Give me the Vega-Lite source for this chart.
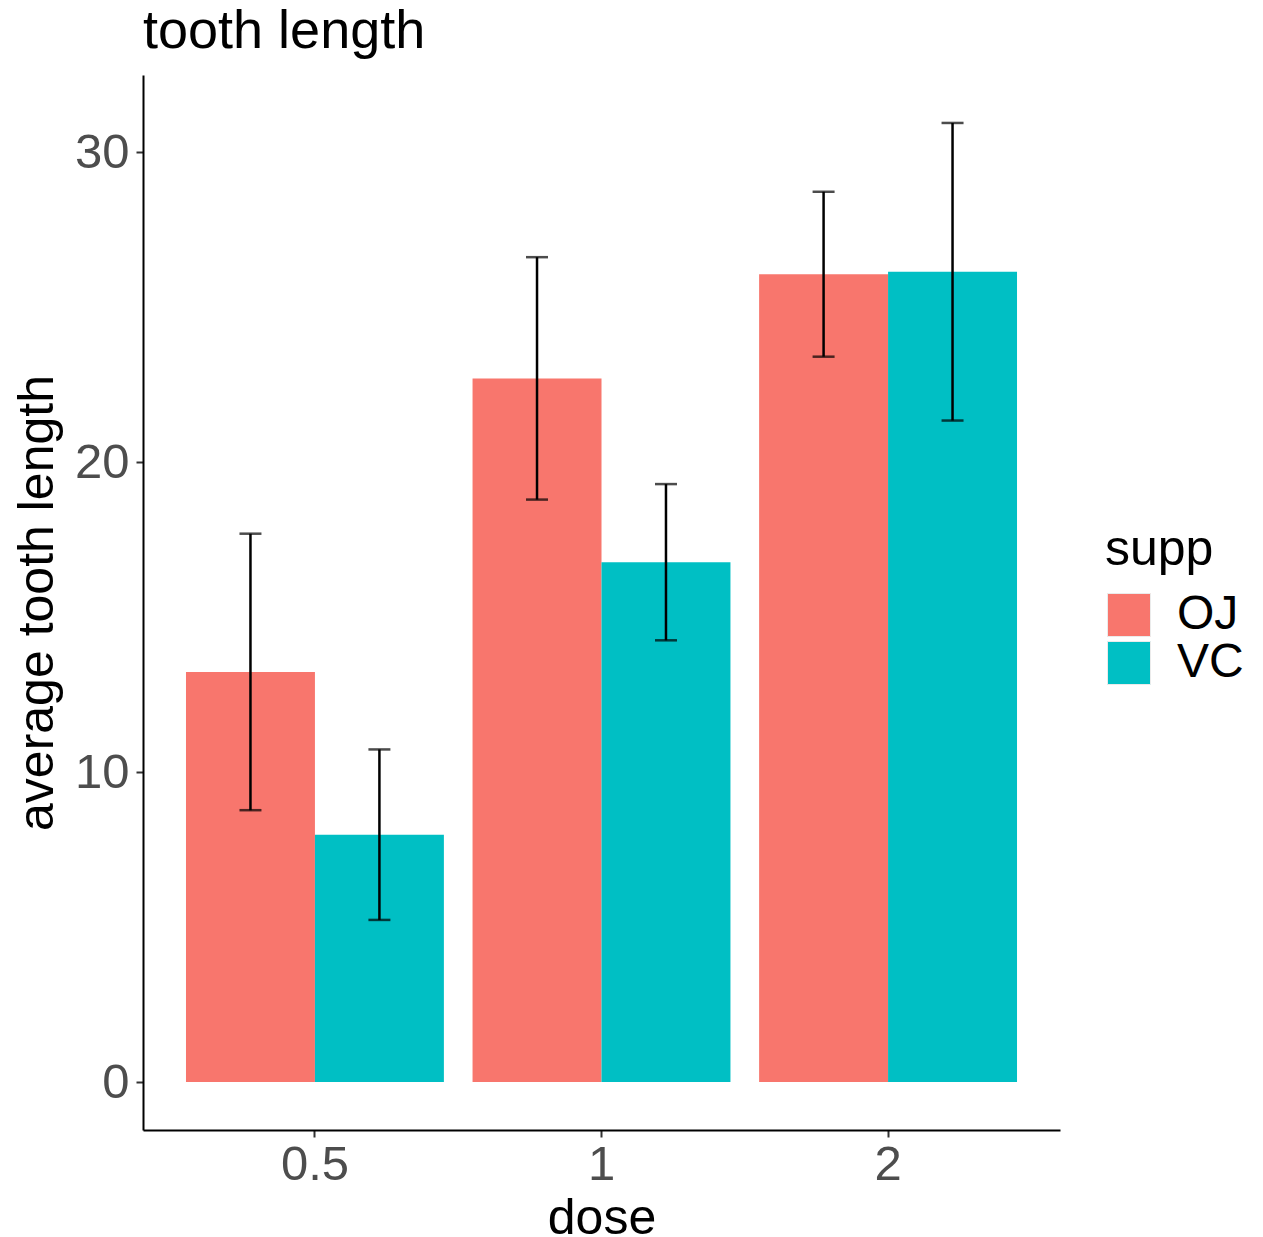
{
  "$schema": "https://vega.github.io/schema/vega-lite/v6.json",
  "autosize": "none",
  "width": 917,
  "height": 1055,
  "padding": {"left": 143, "top": 75, "right": 203, "bottom": 107},
  "background": "white",
  "title": {"text": "tooth length", "anchor": "start", "frame": "group", "fontSize": 54, "font": "Liberation Sans", "fontWeight": "normal", "color": "black", "offset": 16},
  "config": {
    "view": {"stroke": null},
    "font": "Liberation Sans",
    "axis": {"grid": false, "domainColor": "black", "domainWidth": 2, "tickColor": "#333333", "tickWidth": 2, "tickSize": 7, "labelColor": "#4D4D4D", "labelFontSize": 49, "labelFont": "Liberation Sans", "titleFont": "Liberation Sans", "titleFontSize": 50, "titleFontWeight": "normal", "titleColor": "black"}
  },
  "data": {"values": [
    {"dose": "0.5", "supp": "OJ", "len": 13.23, "lo": 8.77, "hi": 17.69},
    {"dose": "1", "supp": "OJ", "len": 22.70, "lo": 18.79, "hi": 26.61},
    {"dose": "2", "supp": "OJ", "len": 26.06, "lo": 23.40, "hi": 28.72},
    {"dose": "0.5", "supp": "VC", "len": 7.98, "lo": 5.23, "hi": 10.73},
    {"dose": "1", "supp": "VC", "len": 16.77, "lo": 14.25, "hi": 19.29},
    {"dose": "2", "supp": "VC", "len": 26.14, "lo": 21.34, "hi": 30.94}
  ]},
  "encoding": {
    "x": {"field": "dose", "type": "nominal", "sort": ["0.5", "1", "2"], "scale": {"paddingInner": 0.1, "paddingOuter": 0.15}, "axis": {"title": "dose", "labelAngle": 0, "labelPadding": 3, "titlePadding": 4}},
    "xOffset": {"field": "supp", "type": "nominal", "scale": {"paddingInner": 0, "paddingOuter": 0}}
  },
  "layer": [
    {
      "mark": {"type": "bar"},
      "encoding": {
        "y": {"field": "len", "type": "quantitative", "scale": {"domain": [-1.547, 32.487], "nice": false, "zero": false}, "axis": {"title": "average tooth length", "values": [0, 10, 20, 30], "labelPadding": 7, "titlePadding": 12}},
        "y2": {"datum": 0},
        "fill": {"field": "supp", "type": "nominal", "scale": {"domain": ["OJ", "VC"], "range": ["#F8766D", "#00BFC4"]},
          "legend": {"title": "supp", "orient": "none", "legendX": 962, "legendY": 450, "titleFontSize": 50, "titleFontWeight": "normal", "titleColor": "black", "titleFont": "Liberation Sans", "titlePadding": 16, "labelFontSize": 48, "labelFont": "Liberation Sans", "labelColor": "black", "labelOffset": 24, "symbolType": "square", "symbolSize": 1849, "symbolStrokeColor": "#EBEBEB", "symbolStrokeWidth": 1, "rowPadding": 0}}
      }
    },
    {
      "mark": {"type": "rule", "color": "black", "strokeWidth": 2.5},
      "encoding": {"y": {"field": "lo", "type": "quantitative"}, "y2": {"field": "hi"}}
    },
    {
      "mark": {"type": "tick", "color": "black", "thickness": 2.5, "size": 22},
      "encoding": {"y": {"field": "lo", "type": "quantitative"}}
    },
    {
      "mark": {"type": "tick", "color": "black", "thickness": 2.5, "size": 22},
      "encoding": {"y": {"field": "hi", "type": "quantitative"}}
    }
  ]
}
